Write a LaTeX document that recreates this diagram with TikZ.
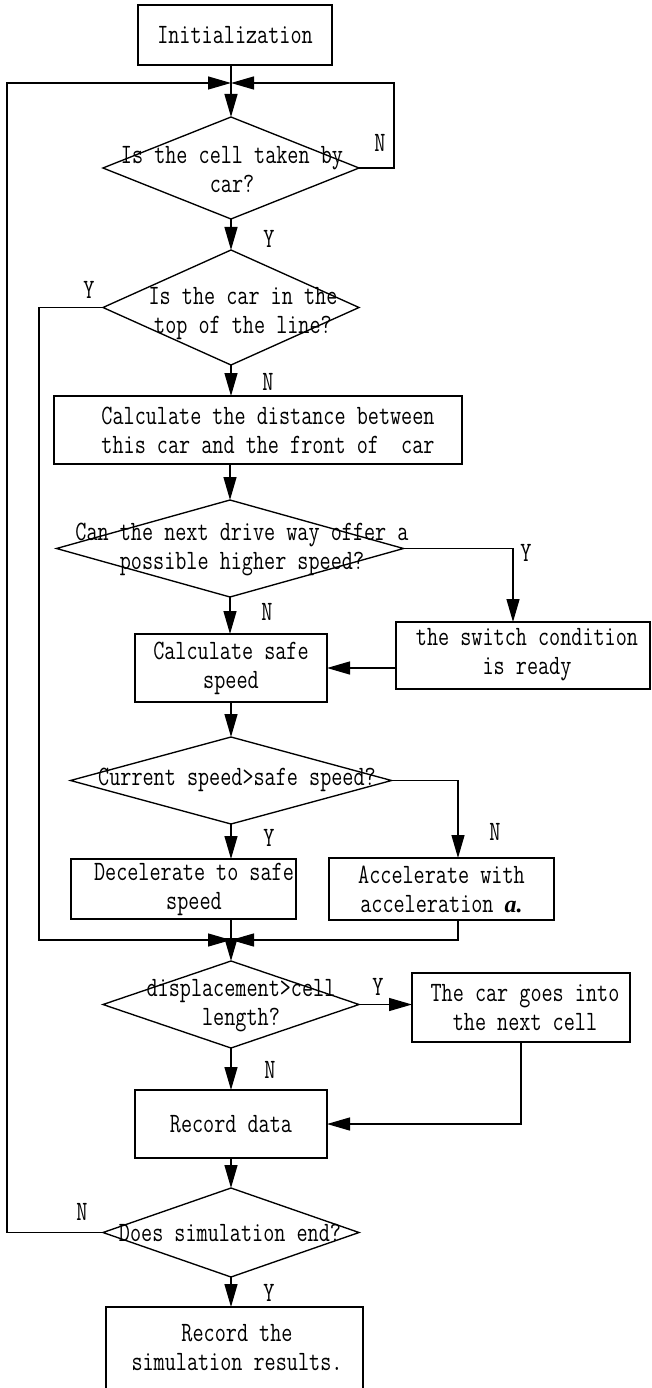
\documentclass[tikz,border=0pt]{standalone}
\usepackage{fontspec}
\newfontfamily\flowfont{Latin Modern Mono}[FakeStretch=0.77]
\newfontfamily\varfont{Liberation Serif}
\usetikzlibrary{arrows.meta,shapes.geometric}

\begin{document}
\begin{tikzpicture}[x=1pt,y=-1pt,
  line width=1.35pt,
  every node/.style={font=\flowfont\fontsize{28}{29}\selectfont},
  box/.style={draw, rectangle, inner sep=0pt, outer sep=0pt, align=center},
  decision/.style={draw, diamond, inner sep=0pt, outer sep=0pt},
  txt/.style={inner sep=0pt, align=center},
  flow/.style={-{Triangle[length=23pt,width=13pt]}},
]
\useasboundingbox (0,0) rectangle (651,1388);
\clip (0,0) rectangle (651,1388);

% ---- shapes ----
\node[box, minimum width=194pt, minimum height=60pt] (init) at (235,35) {Initialization};
\coordinate (m1) at (231,83);

\node[decision, minimum width=256pt, minimum height=102pt] (d1) at (231,168) {};
\node[txt] (d1t) at (232,170) {Is the cell taken by\\car?};
\coordinate (n1) at (394,168);

\node[decision, minimum width=256pt, minimum height=115pt] (d2) at (231,307.5) {};
\node[txt] (d2t) at (243,314) {Is the car in the\\top of the line?};
\coordinate (c2) at (39,307.5);

\node[box, minimum width=408pt, minimum height=68pt] (calc) at (258,430) {};
\node[txt] (calct) at (268,430) {Calculate the distance between\\this car and the front of~~car};

\node[decision, minimum width=347pt, minimum height=97pt] (d3) at (230,548.5) {};
\node[txt] (d3t) at (242,549) {Can the next drive way offer a\\possible higher speed?};
\coordinate (c3) at (513,548.5);

\node[box, minimum width=192pt, minimum height=68pt] (safe) at (231,668) {Calculate safe\\speed};
\node[box, minimum width=254pt, minimum height=67pt] (switch) at (523,655.5) {};
\node[txt] (switcht) at (527,655) {the switch condition\\is ready};

\node[decision, minimum width=321pt, minimum height=87pt] (d4) at (231,780.5) {};
\node[txt] (d4t) at (237,780) {Current speed>safe speed?};
\coordinate (c4) at (458,780.5);

\node[box, minimum width=225pt, minimum height=60pt] (decel) at (183.5,889) {};
\node[txt] (decelt) at (194,889.5) {Decelerate to safe\\speed};
\node[box, minimum width=225pt, minimum height=62pt] (accel) at (441.5,889) {Accelerate with\\acceleration {\varfont\fontsize{24}{29}\selectfont\bfseries\itshape a.}};
\coordinate (m2) at (231,940);

\node[decision, minimum width=256pt, minimum height=87pt] (d5) at (231,1004.5) {};
\node[txt] (d5t) at (241,1005.5) {displacement>cell\\length?};
\node[box, minimum width=218pt, minimum height=69pt] (car) at (521,1007.5) {};
\node[txt] (cart) at (525,1007.5) {The car goes into\\the next cell};

\node[box, minimum width=192pt, minimum height=68pt] (rec) at (231,1124) {Record data};

\node[decision, minimum width=256pt, minimum height=89pt] (d6) at (231,1232.5) {};
\node[txt] (d6t) at (230,1233) {Does simulation end?};
\coordinate (c6) at (7,1232.5);

\node[box, minimum width=257pt, minimum height=93pt] (last) at (234.5,1353.5) {};
\node[txt] (lastt) at (237,1347.5) {Record the\\simulation results.};

% ---- branch labels ----
\node (lN1) at (380,143) {N};
\node (lY1) at (269,239) {Y};
\node (lY2) at (89,290) {Y};
\node (lN2) at (268,382) {N};
\node (lY3) at (526,553) {Y};
\node (lN3) at (267,612) {N};
\node (lY4) at (269,838) {Y};
\node (lN4) at (495,832) {N};
\node (lY5) at (378,987) {Y};
\node (lN5) at (270,1070) {N};
\node (lN6) at (82,1212) {N};
\node (lY6) at (269,1293) {Y};

% ---- connectors ----
\draw (init.south -| m1) -- (m1);
\draw[flow] (d6.west) -- (c6) |- (m1);
\draw[flow] (d1.east) -- (n1) |- (m1);
\draw[flow] (m1) -- (d1.north);
\draw[flow] (d1.south) -- (d2.north);
\draw[flow] (d2.south) -- (d2.south |- calc.north);
\draw[flow] (d3.north |- calc.south) -- (d3.north);
\draw[flow] (d3.south) -- (d3.south |- safe.north);
\draw[flow] (d3.east) -- (c3) -- (c3 |- switch.north);
\draw[flow] (switch.west |- safe.east) -- (safe.east);
\draw[flow] (safe.south) -- (d4.north);
\draw[flow] (d4.south) -- (d4.south |- decel.north);
\draw[flow] (d4.east) -- (c4) -- (c4 |- accel.north);
\draw[flow] (d2.west) -- (c2) |- (m2);
\draw (m2 |- decel.south) -- (m2);
\draw[flow] (c4 |- accel.south) |- (m2);
\draw[flow] (m2) -- (d5.north);
\draw[flow] (d5.east) -- (d5.east -| car.west);
\draw[flow] (d5.south) -- (rec.north);
\draw[flow] (car.south) |- (rec.east);
\draw[flow] (rec.south) -- (d6.north);
\draw[flow] (d6.south) -- (d6.south |- last.north);
\end{tikzpicture}
\end{document}
